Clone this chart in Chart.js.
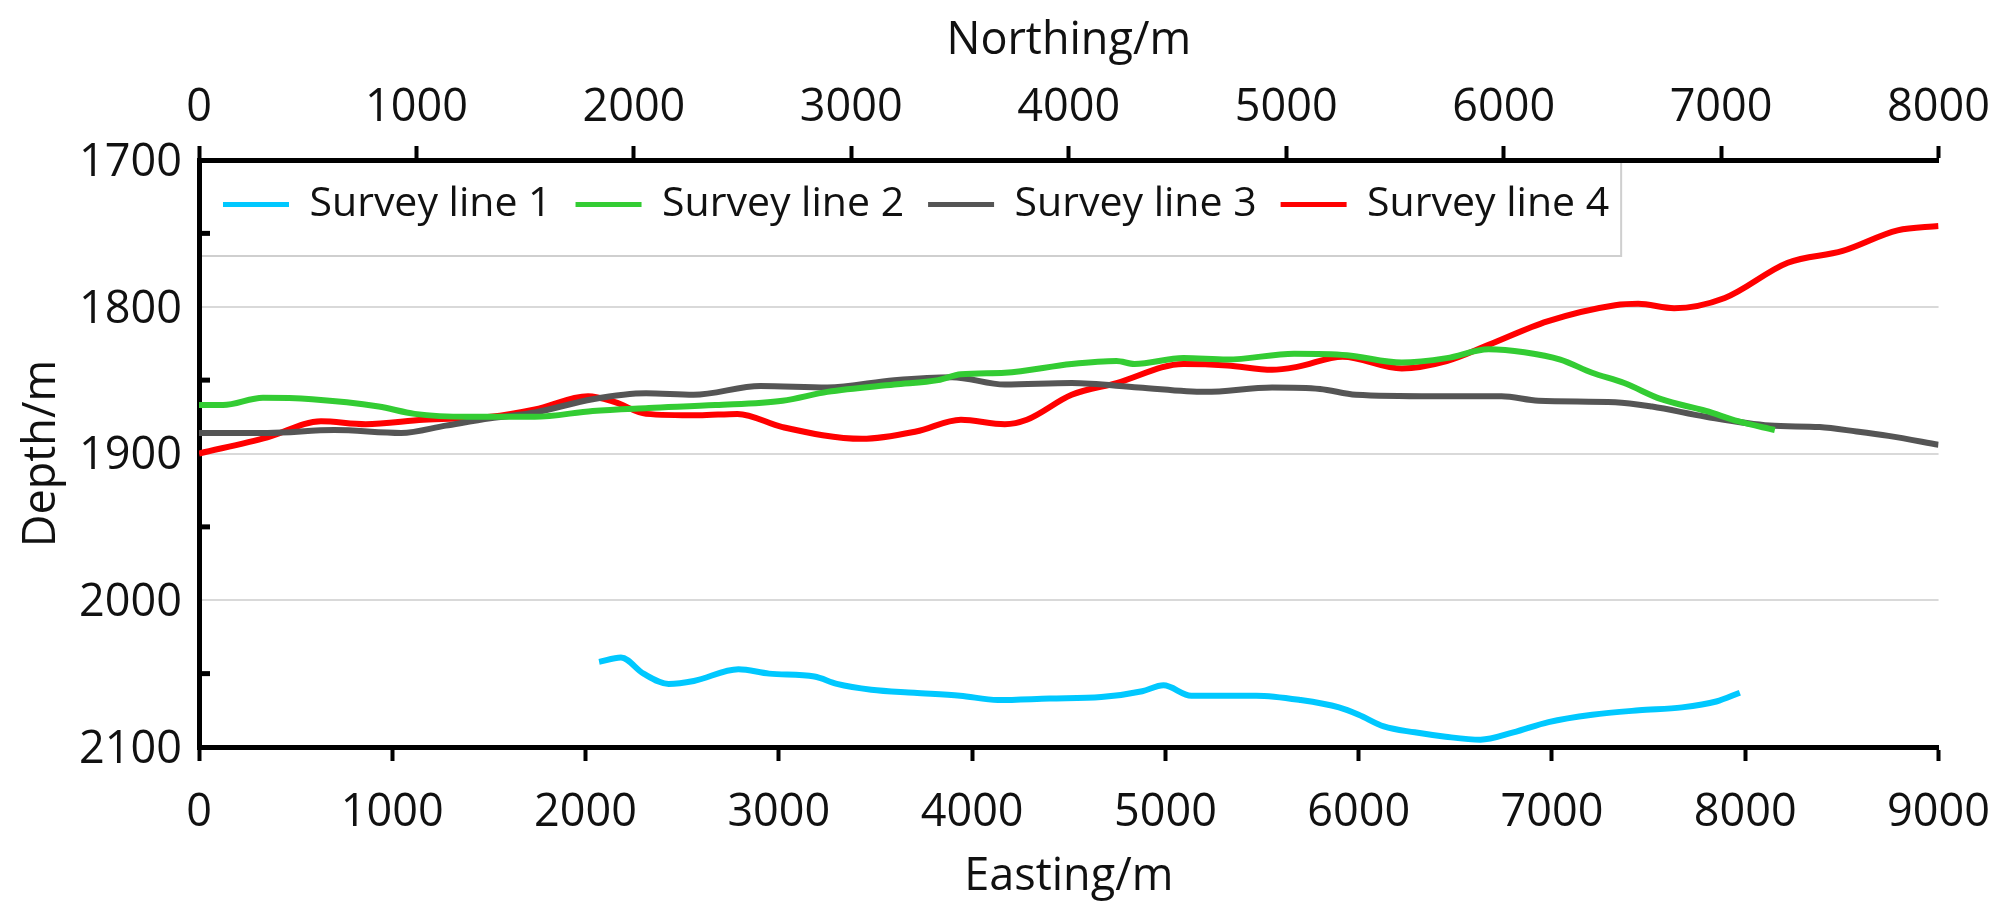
<!DOCTYPE html>
<html>
<head>
<meta charset="utf-8">
<script src="https://cdn.jsdelivr.net/npm/chart.js@4.4.0/dist/chart.umd.min.js"></script>
<style>
html,body{margin:0;padding:0;background:#fff;}
canvas{display:block;}
</style>
</head>
<body>
<canvas id="c" width="2015" height="918"></canvas>
<script>
// ---------- data ----------
const eastingTicks  = [0,1000,2000,3000,4000,5000,6000,7000,8000,9000];
const northingTicks = [0,1000,2000,3000,4000,5000,6000,7000,8000];
const depthTicks    = [1700,1800,1900,2000,2100];
const depthMinorTicks = [1750,1850,1950,2050];

const seriesNames = ['Survey line 1','Survey line 2','Survey line 3','Survey line 4'];

const line1Easting = [2070,2183,2300,2430,2560,2791,2950,3184,3300,3478,3700,3938,4133,4400,4668,4880,4990,5134,5300,5470,5700,5898,6000,6130,6290,6450,6630,6800,6982,7208,7450,7673,7850,7972];
const line1Depth   = [2042,2039,2050,2057,2055,2047,2050,2052,2057,2061,2063,2065,2068,2067,2066,2062,2058,2065,2065,2065,2068,2073,2078,2086,2090,2093,2095,2090,2083,2078,2075,2073,2069,2063];

const line2Easting = [0,124,331,585,930,1116,1392,1737,2037,2327,2673,3019,3251,3597,3824,3942,4169,4515,4747,4840,5093,5320,5666,5939,6223,6455,6672,6857,7043,7208,7374,7565,7797,7962,8153];
const line2Depth   = [1867,1867,1862,1863,1868,1873,1875,1875,1871,1869,1867,1864,1858,1853,1850,1846,1845,1839,1837,1839,1835,1836,1832,1833,1838,1835,1829,1831,1836,1845,1852,1863,1871,1878,1884];

const line3Easting = [0,354,700,1046,1276,1507,1738,2037,2313,2559,2905,3251,3597,3896,4169,4515,4861,5206,5552,5800,5986,6388,6739,6930,7327,7518,7797,8127,8385,8576,8741,9000];
const line3Depth   = [1886,1886,1884,1886,1881,1876,1872,1863,1859,1860,1854,1855,1850,1848,1853,1852,1855,1858,1855,1856,1860,1861,1861,1864,1865,1868,1875,1881,1882,1885,1888,1894];

const line4Easting = [0,354,631,862,1161,1507,1738,2013,2152,2313,2585,2786,3019,3431,3710,3942,4169,4283,4515,4747,5093,5320,5552,5681,5917,6223,6455,6672,6976,7327,7446,7632,7894,8220,8504,8788,9000];
const line4Depth   = [1900,1889,1878,1880,1877,1875,1870,1861,1865,1873,1874,1873,1882,1890,1885,1877,1880,1877,1860,1852,1839,1840,1843,1841,1834,1842,1837,1826,1810,1799,1798,1801,1794,1770,1762,1748,1745];

const seriesColors = ['#00C8FF','#33CC33','#555555','#FF0000'];

// ---------- build ----------
const toPoints = (xs, ys) => xs.map((x, i) => ({x: x, y: ys[i]}));
const allE = [line1Easting, line2Easting, line3Easting, line4Easting];
const allD = [line1Depth, line2Depth, line3Depth, line4Depth];

const datasets = seriesNames.map((name, i) => ({
  label: name,
  data: toPoints(allE[i], allD[i]),
  borderColor: seriesColors[i],
  backgroundColor: seriesColors[i],
  borderWidth: 6,
  pointRadius: 0,
  fill: false,
  cubicInterpolationMode: 'monotone',
  xAxisID: 'x',
  yAxisID: 'y'
}));

Chart.defaults.font.family = "'Open Sans', sans-serif";
Chart.defaults.color = '#111';

const plainNumber = v => String(v);

// legend laid out horizontally inside the plot area
const legendInsidePlugin = {
  id: 'legendInside',
  beforeLayout(chart) {
    if (chart.legend) chart.legend.isHorizontal = () => true;
  },
  afterLayout(chart) {
    const lg = chart.legend;
    const area = chart.chartArea;
    lg.left = area.left;
    lg.right = area.right;
    lg.width = area.right - area.left;
    lg.top = area.top;
    lg.bottom = area.top + lg.height;
  }
};

const decorPlugin = {
  id: 'decor',
  afterDraw(chart) {
    const ctx = chart.ctx;
    const y = chart.scales.y;
    const area = chart.chartArea;
    ctx.save();
    // minor inward ticks on depth axis
    ctx.strokeStyle = '#000';
    ctx.lineWidth = 5;
    depthMinorTicks.forEach(v => {
      const p = y.getPixelForValue(v);
      ctx.beginPath();
      ctx.moveTo(area.left, p);
      ctx.lineTo(area.left + 11, p);
      ctx.stroke();
    });
    // legend frame
    const lg = chart.legend;
    const hb = lg.legendHitBoxes;
    const last = hb[hb.length - 1];
    const right = last.left + last.width + 12;
    const bottom = last.top + last.height + 31;
    ctx.strokeStyle = '#cfcfcf';
    ctx.lineWidth = 2;
    ctx.beginPath();
    ctx.moveTo(area.left + 3, bottom);
    ctx.lineTo(right, bottom);
    ctx.lineTo(right, area.top + 3);
    ctx.stroke();
    ctx.restore();
  }
};

new Chart(document.getElementById('c'), {
  type: 'line',
  data: { datasets: datasets },
  options: {
    responsive: false,
    animation: false,
    devicePixelRatio: 1,
    layout: { padding: { left: 0, right: 72, top: 0, bottom: 0 } },
    plugins: {
      legend: {
        position: 'chartArea',
        align: 'start',
        labels: {
          boxWidth: 66,
          boxHeight: 5,
          padding: 24,
          color: '#111',
          font: { size: 41 },
          generateLabels(chart) {
            return Chart.defaults.plugins.legend.labels.generateLabels(chart)
              .map(l => Object.assign(l, { lineWidth: 0 }));
          }
        }
      },
      tooltip: { enabled: false }
    },
    scales: {
      x: {
        type: 'linear',
        position: 'bottom',
        min: 0, max: 9000,
        afterBuildTicks: s => { s.ticks = eastingTicks.map(v => ({ value: v })); },
        afterFit: s => { s.height = 171; },
        ticks: { font: { size: 45 }, padding: 25, color: '#111', maxRotation: 0, autoSkip: false, callback: plainNumber },
        grid: { drawOnChartArea: false, tickLength: 14, tickWidth: 4, tickColor: '#000' },
        border: { display: true, color: '#000', width: 5 },
        title: { display: true, text: 'Easting/m', font: { size: 45 }, color: '#111', padding: { top: 0, bottom: 14 } }
      },
      xTop: {
        type: 'linear',
        position: 'top',
        min: 0, max: 8000,
        afterBuildTicks: s => { s.ticks = northingTicks.map(v => ({ value: v })); },
        afterFit: s => { s.height = 160; },
        ticks: { font: { size: 45 }, padding: 11, color: '#111', maxRotation: 0, autoSkip: false, callback: plainNumber },
        grid: { drawOnChartArea: false, tickLength: 14, tickWidth: 4, tickColor: '#000' },
        border: { display: true, color: '#000', width: 5 },
        title: { display: true, text: 'Northing/m', font: { size: 45 }, color: '#111', padding: { top: 14, bottom: 0 } }
      },
      y: {
        type: 'linear',
        position: 'left',
        reverse: true,
        min: 1700, max: 2100,
        afterBuildTicks: s => { s.ticks = depthTicks.map(v => ({ value: v })); },
        afterFit: s => { s.width = 199; },
        ticks: { font: { size: 45 }, padding: 17, labelOffset: 3, color: '#111', autoSkip: false, callback: plainNumber },
        grid: {
          drawTicks: false,
          lineWidth: 2,
          color: ctx => (ctx.tick && (ctx.tick.value === 1700 || ctx.tick.value === 2100)) ? 'rgba(0,0,0,0)' : '#d9d9d9'
        },
        border: { display: true, color: '#000', width: 5 },
        title: { display: true, text: 'Depth/m', font: { size: 45 }, color: '#111', padding: { top: 15, bottom: 0 } }
      }
    }
  },
  plugins: [legendInsidePlugin, decorPlugin]
});
</script>
</body>
</html>
